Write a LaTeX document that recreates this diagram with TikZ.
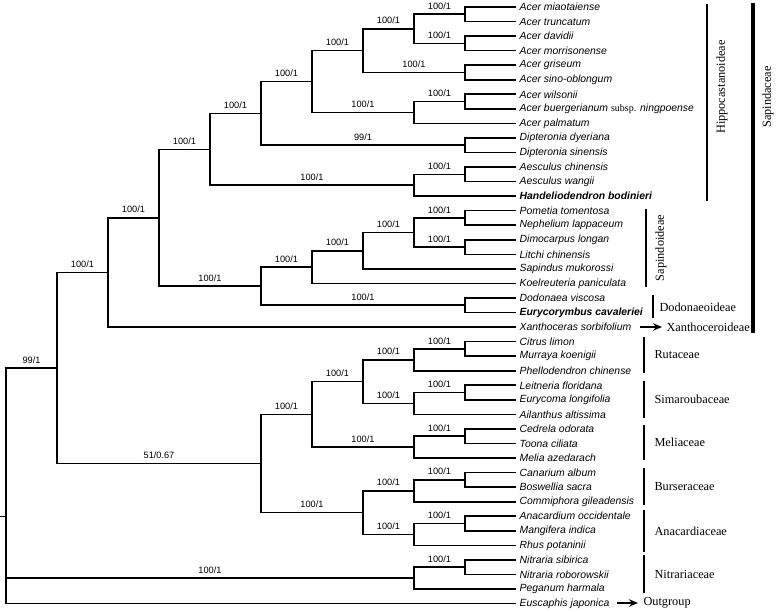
\documentclass[tikz,border=0pt]{standalone}
\usepackage{fontspec}
\setmainfont{Liberation Serif}
\setsansfont{Liberation Sans}
\usetikzlibrary{calc,arrows.meta}

% internal node of the cladogram: name, depth level, first child, last child
\newcommand{\clade}[4]{%
  \coordinate (tmp) at ($(#3)!.5!(#4)$);
  \coordinate (#1) at (tmp -| #2);}

\begin{document}
\begin{tikzpicture}[x=1pt,y=-1pt,
    branch/.style={line width=1.6pt},
    leaf/.style={anchor=west,inner sep=3.5pt,font=\fontsize{10.4}{12}\sffamily\itshape},
    boot/.style={above=3pt,inner sep=1pt,font=\fontsize{9.2}{10}\sffamily},
    grp/.style={font=\fontsize{12.3}{14}\rmfamily},
    bar/.style={line width=2pt},
    arr/.style={line width=1.3pt,-{Stealth[length=9pt,width=7.5pt]}}]
  \useasboundingbox (0,0) rectangle (777,612);
  % depth levels
  \foreach \k in {0,...,9}
    \coordinate (x\k) at ({6+51*\k},0);
  % taxa
  \foreach \n/\t [count=\i from 0] in {
      amia/Acer miaotaiense, atru/Acer truncatum, adav/Acer davidii,
      amor/Acer morrisonense, agri/Acer griseum, asin/Acer sino-oblongum,
      awil/Acer wilsonii,
      abue/{Acer buergerianum {\rmfamily\upshape\fontsize{10}{12}\selectfont subsp.} ningpoense},
      apal/Acer palmatum, ddye/Dipteronia dyeriana, dsin/Dipteronia sinensis,
      achi/Aesculus chinensis, awan/Aesculus wangii,
      hbod/{\bfseries Handeliodendron bodinieri},
      ptom/Pometia tomentosa, nlap/Nephelium lappaceum, dlon/Dimocarpus longan,
      lchi/Litchi chinensis, smuk/Sapindus mukorossi, kpan/Koelreuteria paniculata,
      dvis/Dodonaea viscosa, ecav/{\bfseries Eurycorymbus cavaleriei},
      xsor/Xanthoceras sorbifolium, clim/Citrus limon, mkoe/Murraya koenigii,
      pchi/Phellodendron chinense, lflo/Leitneria floridana,
      elon/Eurycoma longifolia, aalt/Ailanthus altissima, codo/Cedrela odorata,
      tcil/Toona ciliata, maze/Melia azedarach, calb/Canarium album,
      bsac/Boswellia sacra, cgil/Commiphora gileadensis,
      aocc/Anacardium occidentale, mind/Mangifera indica, rpot/Rhus potaninii,
      nsib/Nitraria sibirica, nrob/Nitraria roborowskii, phar/Peganum harmala,
      ejap/Euscaphis japonica}
    \node[leaf] (\n) at (516,{7+14.55*\i}) {\t};

  % Hippocastanoideae
  \clade{c1}{x9}{amia}{atru}
  \clade{c2}{x9}{adav}{amor}
  \clade{c3}{x8}{c1}{c2}
  \clade{c4}{x9}{agri}{asin}
  \clade{c5}{x7}{c3}{c4}
  \clade{c6}{x9}{awil}{abue}
  \clade{c7}{x8}{c6}{apal}
  \clade{c8}{x6}{c5}{c7}
  \clade{c9}{x9}{ddye}{dsin}
  \clade{c10}{x5}{c8}{c9}
  \clade{c11}{x9}{achi}{awan}
  \clade{c12}{x8}{c11}{hbod}
  \clade{hip}{x4}{c10}{c12}
  % Sapindoideae, Dodonaeoideae
  \clade{s1}{x9}{ptom}{nlap}
  \clade{s2}{x9}{dlon}{lchi}
  \clade{s3}{x8}{s1}{s2}
  \clade{s4}{x7}{s3}{smuk}
  \clade{sap}{x6}{s4}{kpan}
  \clade{dod}{x9}{dvis}{ecav}
  \clade{sd}{x5}{sap}{dod}
  \clade{hsd}{x3}{hip}{sd}
  \clade{spd}{x2}{hsd}{xsor}
  % other Sapindales
  \clade{r1}{x9}{clim}{mkoe}
  \clade{rut}{x8}{r1}{pchi}
  \clade{m1}{x9}{lflo}{elon}
  \clade{sim}{x8}{m1}{aalt}
  \clade{rs}{x7}{rut}{sim}
  \clade{e1}{x9}{codo}{tcil}
  \clade{mel}{x8}{e1}{maze}
  \clade{rsm}{x6}{rs}{mel}
  \clade{b1}{x9}{calb}{bsac}
  \clade{bur}{x8}{b1}{cgil}
  \clade{a1}{x9}{aocc}{mind}
  \clade{ana}{x8}{a1}{rpot}
  \clade{ba}{x7}{bur}{ana}
  \clade{sapi}{x5}{rsm}{ba}
  \clade{core}{x1}{spd}{sapi}
  \clade{n1}{x9}{nsib}{nrob}
  \clade{nit}{x8}{n1}{phar}
  \coordinate (tmp) at ($0.3333*(core)+0.3333*(nit)+0.3333*(ejap)$);
  \coordinate (root) at (tmp -| x0);
  \coordinate (stem) at ($(root)+(-6,0)$);

  % branches to taxa
  \foreach \p/\c in {c1/amia, c1/atru, c2/adav, c2/amor, c4/agri, c4/asin,
      c6/awil, c6/abue, c7/apal, c9/ddye, c9/dsin, c11/achi, c11/awan,
      c12/hbod, s1/ptom, s1/nlap, s2/dlon, s2/lchi, s4/smuk, sap/kpan,
      dod/dvis, dod/ecav, spd/xsor, r1/clim, r1/mkoe, rut/pchi, m1/lflo,
      m1/elon, sim/aalt, e1/codo, e1/tcil, mel/maze, b1/calb, b1/bsac,
      bur/cgil, a1/aocc, a1/mind, ana/rpot, n1/nsib, n1/nrob, nit/phar,
      root/ejap}
    \draw[branch] (\p) |- (\c.west);
  % internal branches with support values
  \foreach \p/\c/\b/\q in {c3/c1/100/1, c3/c2/100/1, c5/c3/100/1,
      c5/c4/100/1, c7/c6/100/1, c8/c5/100/1, c8/c7/100/1, c10/c8/100/1,
      c10/c9/99/1, c12/c11/100/1, hip/c10/100/1, hip/c12/100/1,
      s3/s1/100/1, s3/s2/100/1, s4/s3/100/1, sap/s4/100/1, sd/sap/100/1,
      sd/dod/100/1, hsd/hip/100/1, hsd/sd/100/1, spd/hsd/100/1,
      core/spd/100/1, rut/r1/100/1, rs/rut/100/1, sim/m1/100/1,
      rs/sim/100/1, mel/e1/100/1, rsm/rs/100/1, rsm/mel/100/1,
      bur/b1/100/1, ba/bur/100/1, ana/a1/100/1, ba/ana/100/1,
      sapi/rsm/100/1, sapi/ba/100/1, core/sapi/51/0.67, root/core/99/1,
      nit/n1/100/1, root/nit/100/1}
    \draw[branch] (\p) |- node[boot,pos=.75] {\b/\q} (\c);
  \draw[branch] (root) -- (stem);

  % groups
  \draw[bar] (707,4) -- (707,201);
  \node[grp,rotate=90] at (722,87) {Hippocastanoideae};
  \draw[line width=3.4pt] (753,3) -- (753,333);
  \node[grp,rotate=90] at (768,97) {Sapindaceae};
  \draw[bar] (646,209) -- (646,287);
  \node[grp,rotate=90] at (661,248) {Sapindoideae};
  \draw[bar] (653,295) -- (653,318);
  \node[grp,anchor=west] at (656,307) {Dodonaeoideae};
  \draw[arr] (640,327) -- (662,327);
  \node[grp,anchor=west] at (663,327) {Xanthoceroideae};
  \foreach \a/\z/\t in {337/373/Rutaceae, 381/418/Simaroubaceae,
      425/460/Meliaceae, 468/505/Burseraceae, 510/552/Anacardiaceae,
      555/593/Nitrariaceae}{
    \draw[line width=2.6pt] (644,\a) -- (644,\z);
    \node[grp,anchor=west] at (651,{(\a+\z)/2}) {\t};
  }
  \draw[arr] (617,603) -- (638,603);
  \node[grp,anchor=west] at (640,603) {Outgroup};
\end{tikzpicture}
\end{document}
